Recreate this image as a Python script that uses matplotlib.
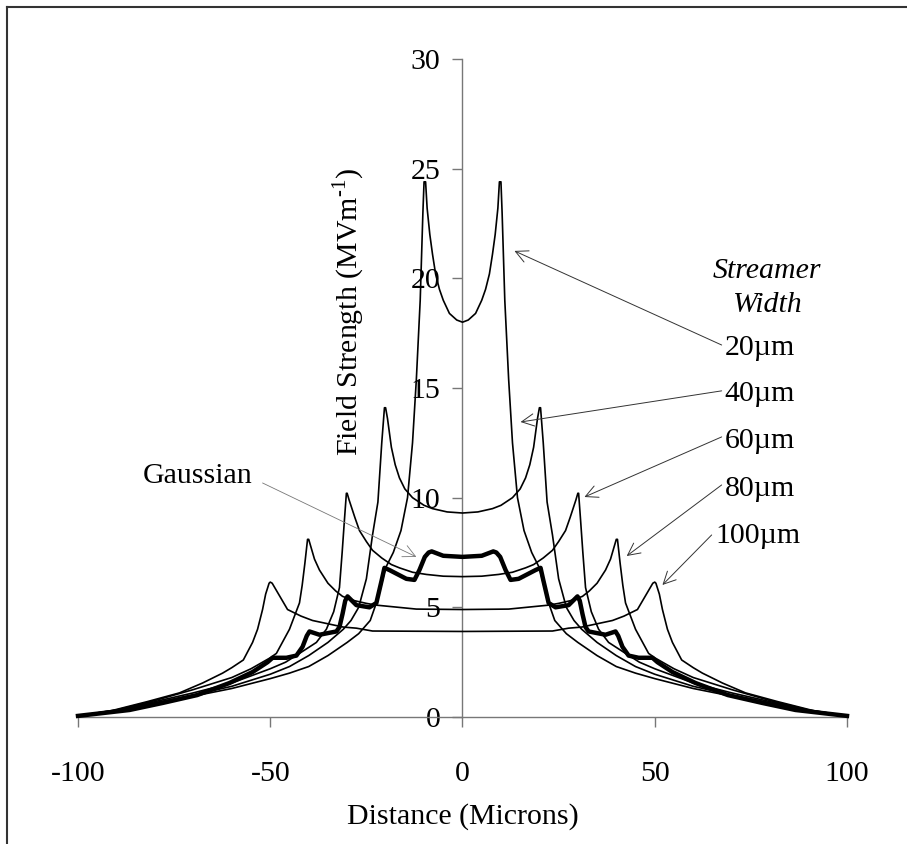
import matplotlib
matplotlib.use('Agg')
import matplotlib.pyplot as plt
import numpy as np
from matplotlib.lines import Line2D

plt.rcParams['font.family'] = ['Liberation Serif', 'DejaVu Serif']
plt.rcParams['mathtext.fontset'] = 'custom'
plt.rcParams['mathtext.rm'] = 'Liberation Serif'
plt.rcParams['axes.unicode_minus'] = False

# left half of each profile (curves are symmetric about x = 0)
w20_x = [-100, -90, -80, -70, -60, -50, -45, -40, -35, -30, -27, -24, -22, -20, -18, -16, -14.3, -13, -12, -11,
         -10.3, -10, -9.6, -9.2, -8.5, -7.8, -7, -6, -5, -3.4, -1.5, 0]
w20_y = [0.05, 0.28, 0.62, 0.95, 1.3, 1.75, 2.0, 2.3, 2.8, 3.4, 3.8, 4.4, 5.4, 6.8, 7.5, 8.5, 10.0, 12.5, 15.4, 19.0,
         23.0, 24.4, 24.4, 23.2, 22.0, 21.1, 20.2, 19.5, 19.0, 18.4, 18.1, 18.0]

w40_x = [-100, -90, -80, -70, -60, -50, -45, -40, -35, -31, -29, -27, -25, -23.4, -22, -21, -20.3, -20, -19.5,
         -18.5, -17.5, -16.4, -15, -13, -10, -7.8, -4, 0]
w40_y = [0.05, 0.28, 0.65, 1.0, 1.4, 1.95, 2.3, 2.8, 3.4, 4.0, 4.4, 5.0, 6.3, 8.3, 9.8, 12.5, 14.1, 14.1, 13.6,
         12.3, 11.5, 10.9, 10.4, 10.0, 9.65, 9.5, 9.35, 9.3]

w60_x = [-100, -90, -80, -70, -60, -50, -46, -42.4, -38, -35.4, -33.5, -32, -31.3, -30.7, -30.2, -30, -29.5, -28,
         -26.8, -25, -23.4, -21, -18.5, -16.4, -13, -9.4, -5, 0]
w60_y = [0.05, 0.3, 0.7, 1.1, 1.55, 2.2, 2.5, 2.9, 3.4, 4.0, 4.8, 5.9, 7.5, 9.0, 10.2, 10.2, 9.9, 9.1,
         8.5, 8.0, 7.6, 7.25, 6.95, 6.8, 6.6, 6.5, 6.42, 6.4]

w80_x = [-100, -90, -80, -70, -60, -55, -50, -48.4, -45, -42.4, -41.7, -41, -40.3, -40, -39.5, -38.5, -37.2, -35,
         -33, -31.2, -28, -25, -22.4, -12, 0]
w80_y = [0.05, 0.32, 0.75, 1.25, 1.8, 2.2, 2.7, 2.9, 4.0, 5.2, 6.0, 7.0, 8.1, 8.1, 7.8, 7.2, 6.7, 6.1,
         5.75, 5.5, 5.3, 5.18, 5.1, 4.92, 4.9]

w100_x = [-100, -91, -82, -73.6, -67.6, -62.4, -60, -57, -54.6, -53.3, -52, -51.2, -50.3, -50, -49.5, -48.5, -47.5,
          -45.5, -42, -39, -31, -27.6, -23.4, 0]
w100_y = [0.05, 0.3, 0.7, 1.1, 1.55, 2.0, 2.25, 2.6, 3.4, 4.0, 4.9, 5.6, 6.1, 6.15, 6.1, 5.8, 5.5,
          4.9, 4.6, 4.4, 4.1, 4.05, 3.92, 3.9]

gauss_x = [-100, -86.6, -78, -69, -60.6, -54.6, -50.7, -49.4, -45.8, -43.2, -41.6, -40.5, -39.8, -37.2, -32.8, -32,
           -31.2, -30.5, -29.9, -27.6, -24.2, -22.4, -21, -20.3, -19, -14.6, -12.5, -11.2, -9.8, -8.8, -8, -5, 0]
gauss_y = [0.05, 0.32, 0.64, 1.0, 1.55, 2.05, 2.5, 2.7, 2.7, 2.8, 3.2, 3.7, 3.9, 3.75, 3.9, 4.1,
           4.7, 5.3, 5.5, 5.1, 5.0, 5.2, 6.25, 6.8, 6.7, 6.3, 6.25, 6.7, 7.3, 7.5, 7.55, 7.35, 7.3]

widths = ['20\u00b5m', '40\u00b5m', '60\u00b5m', '80\u00b5m', '100\u00b5m']
x_ticks = [-100, -50, 0, 50, 100]
y_ticks = [0, 5, 10, 15, 20, 25, 30]


def mirror(xs, ys):
    xs = np.array(xs, dtype=float)
    ys = np.array(ys, dtype=float)
    return np.concatenate([xs, -xs[::-1][1:]]), np.concatenate([ys, ys[::-1][1:]])


fig = plt.figure(figsize=(9.07, 8.44), dpi=100)
ax = fig.add_axes([78 / 907, 1 - 717 / 844, 769 / 907, 658 / 844])

for xs, ys in [(w20_x, w20_y), (w40_x, w40_y), (w60_x, w60_y), (w80_x, w80_y), (w100_x, w100_y)]:
    fx, fy = mirror(xs, ys)
    ax.plot(fx, fy, color='black', lw=1.2, clip_on=False, zorder=3, solid_joinstyle='round')
gx, gy = mirror(gauss_x, gauss_y)
ax.plot(gx, gy, color='black', lw=3.2, clip_on=False, zorder=4, solid_joinstyle='round')

ax.set_xlim(-100, 100)
ax.set_ylim(0, 30)
ax.spines['left'].set_position(('data', 0))
ax.spines['bottom'].set_position(('data', 0))
ax.spines['top'].set_visible(False)
ax.spines['right'].set_visible(False)
for s in ['left', 'bottom']:
    ax.spines[s].set_color('#777777')
    ax.spines[s].set_linewidth(1.0)
    ax.spines[s].set_zorder(2)
ax.set_xticks(x_ticks)
ax.set_yticks(y_ticks)
ax.tick_params(axis='both', direction='out', length=7, width=1.0, color='#777777', labelsize=21.5)
ax.tick_params(axis='x', pad=25)
ax.tick_params(axis='y', pad=9)
ax.patch.set_visible(False)

ax.text(-29.5, 18.47, 'Field Strength (MVm$^{\\text{-1}}$)', rotation=90, ha='center', va='center', fontsize=21.5)
fig.text(463 / 907, 1 - 817 / 844, 'Distance (Microns)', ha='center', va='center', fontsize=21.5)

# arrows and labels
arrow_props = dict(arrowstyle='->', color='#333333', lw=0.7, mutation_scale=22, shrinkA=0, shrinkB=0)
tails = [(67.4, 16.96), (67.4, 14.87), (67.4, 12.77), (67.4, 10.58), (64.8, 8.3)]
heads = [(13.5, 21.25), (15.1, 13.45), (31.7, 10.03), (42.7, 7.34), (52.0, 6.02)]
label_pos = [(68.2, 16.83), (68.2, 14.73), (68.2, 12.59), (68.2, 10.40), (65.8, 8.25)]
for lab, t, h, p in zip(widths, tails, heads, label_pos):
    ax.annotate('', xy=h, xytext=t, arrowprops=arrow_props, annotation_clip=False)
    ax.text(p[0], p[1], lab, ha='left', va='center', fontsize=21.5)

ax.text(79.1, 20.34, 'Streamer', ha='center', va='center', fontsize=21.5, style='italic')
ax.text(79.1, 18.79, 'Width', ha='center', va='center', fontsize=21.5, style='italic')

ax.annotate('', xy=(-12, 7.3), xytext=(-52, 10.67), arrowprops=dict(arrowstyle='->', color='#777777', lw=0.6,
                                                                    mutation_scale=22, shrinkA=0, shrinkB=0))
ax.text(-54.6, 11.0, 'Gaussian', ha='right', va='center', fontsize=21.5)

# outer frame (only top and left edges visible in the crop)
fig.add_artist(Line2D([7 / 907, 7 / 907], [0, 1 - 7 / 844], color='#333333', lw=1.5))
fig.add_artist(Line2D([7 / 907, 1], [1 - 7 / 844, 1 - 7 / 844], color='#333333', lw=1.5))

fig.savefig('out.png', dpi=100)
